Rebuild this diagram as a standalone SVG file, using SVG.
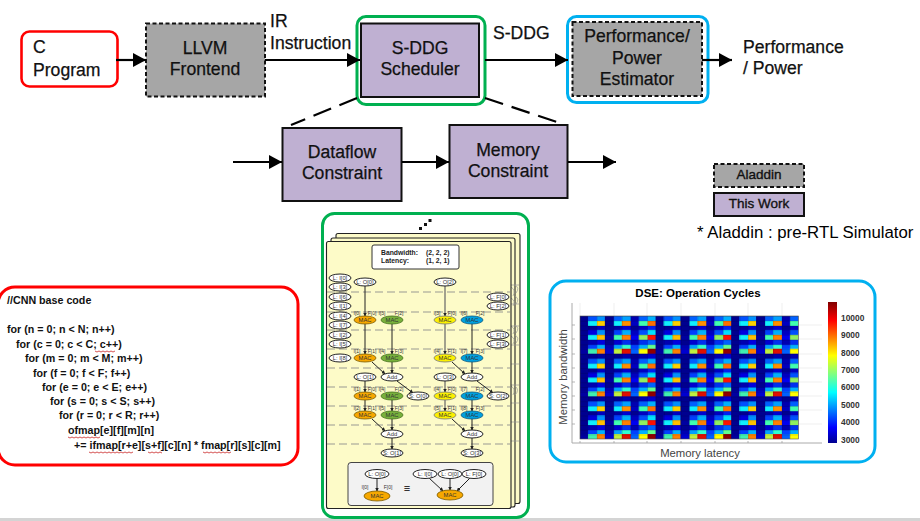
<svg xmlns="http://www.w3.org/2000/svg" width="920" height="521" viewBox="0 0 920 521">
<style>
text{font-family:"Liberation Sans",Arial,sans-serif;fill:#000}
.lbl{font-size:17.6px;fill:#111;stroke:#111;stroke-width:.25}
.mid{font-size:17.6px;fill:#111;stroke:#111;stroke-width:.25;text-anchor:middle}
.leg{font-size:13.5px;fill:#111;stroke:#111;stroke-width:.35;text-anchor:middle}
.purple{fill:#bfb0d2;stroke:#111;stroke-width:2}
.gray{fill:#a6a6a6;stroke:#111;stroke-width:2;stroke-dasharray:4 2.5}
.conn{fill:none;stroke:#000;stroke-width:2.2;marker-end:url(#big)}
.dash{fill:none;stroke:#000;stroke-width:2.2;stroke-dasharray:19 9}
.code{font-size:10.7px;font-weight:bold;fill:#111}
.sq{fill:none;stroke:#d04040;stroke-width:.9}
.card{fill:#fdfbc8;stroke:#222;stroke-width:1.1}
.sep{stroke:#9a9a92;stroke-width:1.2;stroke-dasharray:8 4;fill:none}
.n{fill:#fff;stroke:#222;stroke-width:1}
.t{font-size:5.8px;text-anchor:middle;fill:#333}
.p{font-size:5px;text-anchor:middle;fill:#333}
.e{fill:none;stroke:#222;stroke-width:1;marker-end:url(#small)}
.eg{fill:none;stroke:#666;stroke-width:1.2;marker-end:url(#small)}
.or{fill:#f7a800;stroke:#7a5a00;stroke-width:.8}
.gr{fill:#78b13c;stroke:#44701c;stroke-width:.8}
.ye{fill:#fbf000;stroke:#777;stroke-width:.8}
.bl{fill:#00a0e0;stroke:#0a5a80;stroke-width:.8}
.ax{font-size:11.3px;fill:#444}
.cb{font-size:8.4px;font-weight:bold;fill:#333}
.tick{stroke:#999;stroke-width:.7;fill:none}
.bw{font-size:6.8px;font-weight:bold;fill:#222}
</style>
<defs>
<marker id="big" markerUnits="userSpaceOnUse" markerWidth="14" markerHeight="14" refX="13" refY="7" orient="auto"><path d="M0 0L13 7L0 14z" fill="#000"/></marker>
<marker id="small" markerUnits="userSpaceOnUse" markerWidth="4" markerHeight="4" refX="3.5" refY="2" orient="auto"><path d="M0 0L4 2L0 4z" fill="#222"/></marker>
<linearGradient id="jet" x1="0" y1="1" x2="0" y2="0">
<stop offset="0" stop-color="#00008f"/><stop offset=".11" stop-color="#0000ff"/><stop offset=".36" stop-color="#00ffff"/><stop offset=".62" stop-color="#ffff00"/><stop offset=".87" stop-color="#ff0000"/><stop offset="1" stop-color="#800000"/>
</linearGradient>
<pattern id="heat" patternUnits="userSpaceOnUse" x="580" y="316" width="75.6" height="42.66" shape-rendering="crispEdges">
<g><rect x="0" y="0" width="8.4" height="4.74" fill="#00008f"/><rect x="8.4" y="0" width="8.4" height="4.74" fill="#0050ff"/><rect x="16.8" y="0" width="8.4" height="4.74" fill="#0090ff"/><rect x="25.2" y="0" width="8.4" height="4.74" fill="#00008f"/><rect x="33.6" y="0" width="8.4" height="4.74" fill="#0060ff"/><rect x="42" y="0" width="8.4" height="4.74" fill="#00a0ff"/><rect x="50.4" y="0" width="8.4" height="4.74" fill="#0000b0"/><rect x="58.8" y="0" width="8.4" height="4.74" fill="#0060ff"/><rect x="67.2" y="0" width="8.4" height="4.74" fill="#00b0ff"/></g>
<g><rect x="0" y="4.74" width="8.4" height="4.74" fill="#00008f"/><rect x="8.4" y="4.74" width="8.4" height="4.74" fill="#10efff"/><rect x="16.8" y="4.74" width="8.4" height="4.74" fill="#ffd000"/><rect x="25.2" y="4.74" width="8.4" height="4.74" fill="#00008f"/><rect x="33.6" y="4.74" width="8.4" height="4.74" fill="#10efff"/><rect x="42" y="4.74" width="8.4" height="4.74" fill="#ff9000"/><rect x="50.4" y="4.74" width="8.4" height="4.74" fill="#0000c0"/><rect x="58.8" y="4.74" width="8.4" height="4.74" fill="#40ffb0"/><rect x="67.2" y="4.74" width="8.4" height="4.74" fill="#ff7000"/></g>
<g><rect x="0" y="9.48" width="8.4" height="4.74" fill="#00008f"/><rect x="8.4" y="9.48" width="8.4" height="4.74" fill="#00008f"/><rect x="16.8" y="9.48" width="8.4" height="4.74" fill="#0000c0"/><rect x="25.2" y="9.48" width="8.4" height="4.74" fill="#00008f"/><rect x="33.6" y="9.48" width="8.4" height="4.74" fill="#0000a0"/><rect x="42" y="9.48" width="8.4" height="4.74" fill="#0000d0"/><rect x="50.4" y="9.48" width="8.4" height="4.74" fill="#00008f"/><rect x="58.8" y="9.48" width="8.4" height="4.74" fill="#0000c0"/><rect x="67.2" y="9.48" width="8.4" height="4.74" fill="#0020f0"/></g>
<g><rect x="0" y="14.22" width="8.4" height="4.74" fill="#00008f"/><rect x="8.4" y="14.22" width="8.4" height="4.74" fill="#0000e0"/><rect x="16.8" y="14.22" width="8.4" height="4.74" fill="#0090ff"/><rect x="25.2" y="14.22" width="8.4" height="4.74" fill="#00008f"/><rect x="33.6" y="14.22" width="8.4" height="4.74" fill="#0040ff"/><rect x="42" y="14.22" width="8.4" height="4.74" fill="#00b0ff"/><rect x="50.4" y="14.22" width="8.4" height="4.74" fill="#0000c0"/><rect x="58.8" y="14.22" width="8.4" height="4.74" fill="#0050ff"/><rect x="67.2" y="14.22" width="8.4" height="4.74" fill="#00e0ff"/></g>
<g><rect x="0" y="18.96" width="8.4" height="4.74" fill="#00008f"/><rect x="8.4" y="18.96" width="8.4" height="4.74" fill="#10efff"/><rect x="16.8" y="18.96" width="8.4" height="4.74" fill="#ffc000"/><rect x="25.2" y="18.96" width="8.4" height="4.74" fill="#0000a0"/><rect x="33.6" y="18.96" width="8.4" height="4.74" fill="#40ffb0"/><rect x="42" y="18.96" width="8.4" height="4.74" fill="#ff8000"/><rect x="50.4" y="18.96" width="8.4" height="4.74" fill="#0000f0"/><rect x="58.8" y="18.96" width="8.4" height="4.74" fill="#90f060"/><rect x="67.2" y="18.96" width="8.4" height="4.74" fill="#ff1000"/></g>
<g><rect x="0" y="23.7" width="8.4" height="4.74" fill="#00008f"/><rect x="8.4" y="23.7" width="8.4" height="4.74" fill="#0000b0"/><rect x="16.8" y="23.7" width="8.4" height="4.74" fill="#0000e0"/><rect x="25.2" y="23.7" width="8.4" height="4.74" fill="#00008f"/><rect x="33.6" y="23.7" width="8.4" height="4.74" fill="#0000d0"/><rect x="42" y="23.7" width="8.4" height="4.74" fill="#0030f0"/><rect x="50.4" y="23.7" width="8.4" height="4.74" fill="#0000b0"/><rect x="58.8" y="23.7" width="8.4" height="4.74" fill="#0030f0"/><rect x="67.2" y="23.7" width="8.4" height="4.74" fill="#0060ff"/></g>
<g><rect x="0" y="28.44" width="8.4" height="4.74" fill="#00008f"/><rect x="8.4" y="28.44" width="8.4" height="4.74" fill="#0040ff"/><rect x="16.8" y="28.44" width="8.4" height="4.74" fill="#00b0ff"/><rect x="25.2" y="28.44" width="8.4" height="4.74" fill="#0000b0"/><rect x="33.6" y="28.44" width="8.4" height="4.74" fill="#00a0ff"/><rect x="42" y="28.44" width="8.4" height="4.74" fill="#30ffd0"/><rect x="50.4" y="28.44" width="8.4" height="4.74" fill="#0040ff"/><rect x="58.8" y="28.44" width="8.4" height="4.74" fill="#00b0ff"/><rect x="67.2" y="28.44" width="8.4" height="4.74" fill="#60ff90"/></g>
<g><rect x="0" y="33.18" width="8.4" height="4.74" fill="#0000a0"/><rect x="8.4" y="33.18" width="8.4" height="4.74" fill="#40f0b0"/><rect x="16.8" y="33.18" width="8.4" height="4.74" fill="#ff8000"/><rect x="25.2" y="33.18" width="8.4" height="4.74" fill="#0000d0"/><rect x="33.6" y="33.18" width="8.4" height="4.74" fill="#c0f040"/><rect x="42" y="33.18" width="8.4" height="4.74" fill="#e01000"/><rect x="50.4" y="33.18" width="8.4" height="4.74" fill="#0060ff"/><rect x="58.8" y="33.18" width="8.4" height="4.74" fill="#ffff00"/><rect x="67.2" y="33.18" width="8.4" height="4.74" fill="#900000"/></g>
<g><rect x="0" y="37.92" width="75.6" height="4.74" fill="#00008f"/><rect x="16.8" y="37.92" width="8.4" height="4.74" fill="#0000a0"/><rect x="42" y="37.92" width="8.4" height="4.74" fill="#0000b0"/><rect x="58.8" y="37.92" width="8.4" height="4.74" fill="#0000b0"/><rect x="67.2" y="37.92" width="8.4" height="4.74" fill="#0000d0"/></g>
</pattern>
<pattern id="grid" patternUnits="userSpaceOnUse" x="580" y="316" width="8.4" height="4.74"><path d="M0 0H8.4M0 0V4.74" stroke="#000" stroke-opacity=".45" stroke-width=".5" fill="none"/></pattern>
</defs>
<rect width="920" height="521" fill="#fff"/>
<rect x="0" y="518" width="920" height="3" fill="#d4d4d4"/>

<g id="c-program"><rect x="21.500" y="31.500" width="96" height="55" rx="8" fill="#fff" stroke="#f00" stroke-width="2.6"/><text class="lbl" x="33" y="53">C</text><text class="lbl" x="33" y="75.500">Program</text></g>
<g id="llvm"><rect class="gray" x="146" y="23.500" width="119" height="73"/><text class="mid" x="205" y="54">LLVM</text><text class="mid" x="205" y="75">Frontend</text></g>
<text id="ir-label" class="lbl" x="270" y="27">IR</text>
<text id="ir-label2" class="lbl" x="270" y="49">Instruction</text>
<g id="scheduler"><rect x="357" y="16.500" width="128" height="88" rx="9" fill="#fff" stroke="#00b050" stroke-width="3"/><rect class="purple" x="361" y="23.500" width="118" height="73.500"/><text class="mid" x="420" y="54">S-DDG</text><text class="mid" x="420" y="75">Scheduler</text></g>
<text id="sddg-label" class="lbl" x="493" y="39">S-DDG</text>
<g id="estimator"><rect x="567.500" y="16.500" width="140.500" height="86" rx="9" fill="#fff" stroke="#00b0f0" stroke-width="3"/><rect class="gray" x="572.500" y="22" width="129.500" height="74"/><text class="mid" x="637" y="42">Performance/</text><text class="mid" x="637" y="63.500">Power</text><text class="mid" x="637" y="85">Estimator</text></g>
<text id="out1" class="lbl" x="743" y="53">Performance</text>
<text id="out2" class="lbl" x="743" y="74">/ Power</text>
<g id="dataflow"><rect class="purple" x="282.500" y="128" width="119" height="73"/><text class="mid" x="342" y="157.500">Dataflow</text><text class="mid" x="342" y="179">Constraint</text></g>
<g id="memory"><rect class="purple" x="449.500" y="125" width="118" height="73"/><text class="mid" x="508" y="156">Memory</text><text class="mid" x="508" y="177">Constraint</text></g>
<g id="legend-aladdin"><rect class="gray" x="714" y="164" width="90" height="23"/><text class="leg" x="759" y="179">Aladdin</text></g>
<g id="legend-work"><rect class="purple" x="714" y="193" width="90" height="23"/><text class="leg" x="759" y="208">This Work</text></g>
<text id="note" x="697" y="238" font-size="16.800" fill="#111">* Aladdin : pre-RTL Simulator</text>

<g id="connectors">
<path class="conn" d="M116 60H146"/>
<path class="conn" d="M265 60H360"/>
<path class="conn" d="M485 60H568"/>
<path class="conn" d="M702 60H732"/>
<path class="dash" d="M357 98L291 125"/>
<path class="dash" d="M485 98L563 124"/>
<path class="conn" d="M233 162H282"/>
<path class="conn" d="M402 162H449"/>
<path class="conn" d="M568 162H616"/>
</g>

<g id="code-panel">
<rect x="-2" y="287" width="300" height="178" rx="17" fill="#fff" stroke="#f00" stroke-width="3"/>
<text class="code" x="7" y="304">//CNN base code</text>
<text class="code" x="7" y="333">for (n = 0; n &lt; N; n++)</text>
<text class="code" x="16" y="348">for (c = 0; c &lt; C; c++)</text>
<text class="code" x="25" y="362">for (m = 0; m &lt; M; m++)</text>
<text class="code" x="33" y="377">for (f = 0; f &lt; F; f++)</text>
<text class="code" x="42" y="391">for (e = 0; e &lt; E; e++)</text>
<text class="code" x="50" y="405">for (s = 0; s &lt; S; s++)</text>
<text class="code" x="59" y="419">for (r = 0; r &lt; R; r++)</text>
<text class="code" x="68" y="434">ofmap[e][f][m][n]</text>
<text class="code" x="74" y="449">+= ifmap[r+e][s+f][c][n] * fmap[r][s][c][m]</text>
<path class="sq" d="M95 351l2 1 2-1 2 1 2-1 2 1 2-1 2 1 2-1 2 1 2-1"/>
<path class="sq" d="M68 437l2 1 2-1 2 1 2-1 2 1 2-1 2 1 2-1 2 1 2-1 2 1 2-1 2 1 2-1 2 1 2-1"/>
<path class="sq" d="M89 452l2 1 2-1 2 1 2-1 2 1 2-1 2 1 2-1 2 1 2-1 2 1 2-1 2 1 2-1 2 1 2-1 2 1 2-1 2 1 2-1 2 1 2-1"/>
<path class="sq" d="M148 452l2 1 2-1 2 1 2-1 2 1 2-1 2 1"/>
<path class="sq" d="M203 452l2 1 2-1 2 1 2-1 2 1 2-1 2 1 2-1 2 1 2-1 2 1 2-1 2 1 2-1"/>
</g>

<g id="ddg-panel">
<rect x="322.500" y="213.500" width="206" height="304" rx="12" fill="#fff" stroke="#00b050" stroke-width="3"/>
<rect x="419" y="227" width="3" height="3" fill="#111"/><rect x="424" y="223" width="3" height="3" fill="#111"/><rect x="428.500" y="219" width="3" height="3" fill="#111"/>
<rect class="card" x="336" y="233.500" width="184" height="270" rx="2"/>
<rect class="card" x="331" y="238" width="184" height="269" rx="2"/>
<path class="tick" d="M511 285h8M511 304h8M511 326h8M511 345h8M511 364h8M511 385h8M511 403h8M511 422h8M511 441h8"/>
<path class="tick" stroke="#333" d="M511 287q5 3 2 9M511 298q5 3 2 8M511 326q5 3 2 8M511 336q5 3 2 8M511 386q5 3 2 9M515 285q5 3 1 8M515 296q5 3 1 8M515 325q5 3 1 8M515 335q5 3 1 8M515 386q5 4 0 9"/>
<rect class="card" x="326.500" y="241.500" width="184.500" height="267" rx="2"/>

<path class="sep" d="M327 292H510M327 312H510M327 330H510M327 349H510M327 368H510M327 387H510M327 406H510M327 425H510M327 444H510"/>
<rect x="372" y="245" width="87" height="24" rx="2" fill="#fff" stroke="#333" stroke-width="1"/>
<text class="bw" x="381" y="254.500">Bandwidth:</text><text class="bw" x="426" y="254.500">(2, 2, 2)</text>
<text class="bw" x="381" y="263">Latency:</text><text class="bw" x="426" y="263">(1, 2, 1)</text>

<g id="ddg-edges">
<path class="e" d="M365 286V316"/><path class="e" d="M365 324V354"/><path class="e" d="M392 324V354"/>
<path class="eg" d="M445 286V316"/><path class="eg" d="M445 324V354"/><path class="e" d="M472 324V354"/>
<path class="e" d="M372 362L385 374"/><path class="e" d="M392 362V373"/><path class="e" d="M452 362L465 374"/><path class="e" d="M472 362V373"/>
<path class="e" d="M397 381L413 393"/><path class="e" d="M477 381L493 393"/>
<path class="e" d="M365 381V392"/><path class="eg" d="M445 381V392"/>
<path class="e" d="M365 400V411"/><path class="e" d="M392 400V411"/><path class="eg" d="M445 400V411"/><path class="e" d="M472 400V411"/>
<path class="e" d="M372 419L385 431"/><path class="e" d="M392 419V430"/><path class="e" d="M452 419L465 431"/><path class="e" d="M472 419V430"/>
<path class="e" d="M392 438V449"/><path class="e" d="M472 438V449"/>
</g>

<g id="ddg-inputs">
<ellipse class="n" cx="340" cy="278" rx="11" ry="4"/><text class="t" x="340" y="280">L: I[0]</text>
<ellipse class="n" cx="340" cy="287" rx="11" ry="4"/><text class="t" x="340" y="289">L: I[3]</text>
<ellipse class="n" cx="340" cy="297" rx="11" ry="4"/><text class="t" x="340" y="299">L: I[6]</text>
<ellipse class="n" cx="340" cy="306" rx="11" ry="4"/><text class="t" x="340" y="308">L: I[1]</text>
<ellipse class="n" cx="340" cy="316" rx="11" ry="4"/><text class="t" x="340" y="318">L: I[4]</text>
<ellipse class="n" cx="340" cy="325" rx="11" ry="4"/><text class="t" x="340" y="327">L: I[7]</text>
<ellipse class="n" cx="340" cy="335" rx="11" ry="4"/><text class="t" x="340" y="337">L: I[2]</text>
<ellipse class="n" cx="340" cy="344" rx="11" ry="4"/><text class="t" x="340" y="346">L: I[5]</text>
<ellipse class="n" cx="340" cy="358" rx="11" ry="4"/><text class="t" x="340" y="360">L: I[8]</text>
<ellipse class="n" cx="365" cy="282" rx="11" ry="4"/><text class="t" x="365" y="284">L: O[0]</text>
<ellipse class="n" cx="445" cy="282" rx="11" ry="4"/><text class="t" x="445" y="284">L: O[2]</text>
<ellipse class="n" cx="498" cy="297" rx="11" ry="4"/><text class="t" x="498" y="299">L: F[0]</text>
<ellipse class="n" cx="498" cy="306" rx="11" ry="4"/><text class="t" x="498" y="308">L: F[2]</text>
<ellipse class="n" cx="498" cy="335" rx="11" ry="4"/><text class="t" x="498" y="337">L: F[1]</text>
<ellipse class="n" cx="498" cy="344" rx="11" ry="4"/><text class="t" x="498" y="346">L: F[3]</text>
<ellipse class="n" cx="365" cy="377" rx="11" ry="4"/><text class="t" x="365" y="379">L: O[1]</text>
<ellipse class="n" cx="445" cy="377" rx="11" ry="4"/><text class="t" x="445" y="379">L: O[3]</text>
<ellipse class="n" cx="418" cy="396" rx="11" ry="4"/><text class="t" x="418" y="398">S: O[0]</text>
<ellipse class="n" cx="498" cy="396" rx="11" ry="4"/><text class="t" x="498" y="398">S: O[2]</text>
<ellipse class="n" cx="392" cy="453" rx="11" ry="4"/><text class="t" x="392" y="455">S: O[1]</text>
<ellipse class="n" cx="472" cy="453" rx="11" ry="4"/><text class="t" x="472" y="455">S: O[3]</text>
<ellipse class="n" cx="392" cy="377" rx="11" ry="4"/><text class="t" x="392" y="379">Add</text>
<ellipse class="n" cx="472" cy="377" rx="11" ry="4"/><text class="t" x="472" y="379">Add</text>
<ellipse class="n" cx="392" cy="434" rx="11" ry="4"/><text class="t" x="392" y="436">Add</text>
<ellipse class="n" cx="472" cy="434" rx="11" ry="4"/><text class="t" x="472" y="436">Add</text>
</g>
<g id="ddg-macs">
<ellipse class="or" cx="365" cy="320" rx="11" ry="4"/><text class="t" x="365" y="322">MAC</text>
<ellipse class="gr" cx="392" cy="320" rx="11" ry="4"/><text class="t" x="392" y="322">MAC</text>
<ellipse class="ye" cx="445" cy="320" rx="11" ry="4"/><text class="t" x="445" y="322">MAC</text>
<ellipse class="bl" cx="472" cy="320" rx="11" ry="4"/><text class="t" x="472" y="322">MAC</text>
<ellipse class="or" cx="365" cy="358" rx="11" ry="4"/><text class="t" x="365" y="360">MAC</text>
<ellipse class="gr" cx="392" cy="358" rx="11" ry="4"/><text class="t" x="392" y="360">MAC</text>
<ellipse class="ye" cx="445" cy="358" rx="11" ry="4"/><text class="t" x="445" y="360">MAC</text>
<ellipse class="bl" cx="472" cy="358" rx="11" ry="4"/><text class="t" x="472" y="360">MAC</text>
<ellipse class="or" cx="365" cy="396" rx="11" ry="4"/><text class="t" x="365" y="398">MAC</text>
<ellipse class="gr" cx="392" cy="396" rx="11" ry="4"/><text class="t" x="392" y="398">MAC</text>
<ellipse class="ye" cx="445" cy="396" rx="11" ry="4"/><text class="t" x="445" y="398">MAC</text>
<ellipse class="bl" cx="472" cy="396" rx="11" ry="4"/><text class="t" x="472" y="398">MAC</text>
<ellipse class="or" cx="365" cy="415" rx="11" ry="4"/><text class="t" x="365" y="417">MAC</text>
<ellipse class="gr" cx="392" cy="415" rx="11" ry="4"/><text class="t" x="392" y="417">MAC</text>
<ellipse class="ye" cx="445" cy="415" rx="11" ry="4"/><text class="t" x="445" y="417">MAC</text>
<ellipse class="bl" cx="472" cy="415" rx="11" ry="4"/><text class="t" x="472" y="417">MAC</text>
</g>
<g id="ddg-ports">
<text class="p" x="357" y="315">I[0]</text><text class="p" x="372" y="315">F[0]</text><text class="p" x="382" y="315">I[3]</text><text class="p" x="399" y="315">F[2]</text>
<text class="p" x="437" y="315">I[3]</text><text class="p" x="452" y="315">F[0]</text><text class="p" x="464" y="315">I[6]</text><text class="p" x="480" y="315">F[2]</text>
<text class="p" x="357" y="353">I[1]</text><text class="p" x="372" y="353">F[1]</text><text class="p" x="382" y="353">I[4]</text><text class="p" x="399" y="353">F[3]</text>
<text class="p" x="437" y="353">I[4]</text><text class="p" x="452" y="353">F[1]</text><text class="p" x="464" y="353">I[7]</text><text class="p" x="480" y="353">F[3]</text>
<text class="p" x="357" y="391">I[1]</text><text class="p" x="372" y="391">F[0]</text><text class="p" x="382" y="391">I[4]</text><text class="p" x="399" y="391">F[2]</text>
<text class="p" x="437" y="391">I[4]</text><text class="p" x="452" y="391">F[0]</text><text class="p" x="464" y="391">I[7]</text><text class="p" x="480" y="391">F[2]</text>
<text class="p" x="357" y="410">I[2]</text><text class="p" x="372" y="410">F[1]</text><text class="p" x="382" y="410">I[5]</text><text class="p" x="399" y="410">F[3]</text>
<text class="p" x="437" y="410">I[5]</text><text class="p" x="452" y="410">F[1]</text><text class="p" x="464" y="410">I[8]</text><text class="p" x="480" y="410">F[3]</text>
</g>
<g id="ddg-key">
<rect x="348" y="462.500" width="145" height="43" rx="3" fill="#f2f2f2" stroke="#444" stroke-width="1"/>
<path class="e" d="M377 478V491"/><path class="e" d="M429 478L443 491"/><path class="e" d="M450 478V490"/><path class="e" d="M470 478L457 491"/>
<ellipse class="n" cx="377" cy="474" rx="12" ry="4.500"/><text class="t" x="377" y="476">L: O[0]</text>
<ellipse class="or" cx="377" cy="496" rx="13" ry="5"/><text class="t" x="377" y="498">MAC</text>
<text class="p" x="365" y="489">I[0]</text><text class="p" x="388" y="489">F[0]</text>
<text x="407" y="492" font-size="11" text-anchor="middle" fill="#444">≡</text>
<ellipse class="n" cx="425" cy="474" rx="12" ry="4.500"/><text class="t" x="425" y="476">L: I[0]</text>
<ellipse class="n" cx="450" cy="474" rx="12" ry="4.500"/><text class="t" x="450" y="476">L: O[0]</text>
<ellipse class="n" cx="474" cy="474" rx="12" ry="4.500"/><text class="t" x="474" y="476">L: F[0]</text>
<ellipse class="or" cx="450" cy="495" rx="13" ry="5"/><text class="t" x="450" y="497">MAC</text>
</g>
</g>

<g id="dse-panel">
<rect x="550" y="281" width="325" height="181" rx="16" fill="#fff" stroke="#00b0f0" stroke-width="3"/>
<text x="698" y="297" font-size="11.500" font-weight="bold" text-anchor="middle" fill="#222">DSE: Operation Cycles</text>
<path d="M572 303V443H822" fill="none" stroke="#aaa" stroke-width="1"/>
<path stroke="#e8e8e8" stroke-width=".7" fill="none" d="M580 303V316M614 303V316M647 303V316M681 303V316M715 303V316M748 303V316M782 303V316M798 325H822M798 339H822M798 354H822M798 368H822M798 382H822M798 396H822M798 410H822M798 424H822"/>
<path class="tick" d="M580 443v-2M614 443v-2M647 443v-2M681 443v-2M715 443v-2M748 443v-2M782 443v-2M572 325h3M572 339h3M572 354h3M572 368h3M572 382h3M572 396h3M572 410h3M572 424h3"/>
<rect x="580" y="316" width="218.400" height="123" fill="url(#heat)"/>
<rect x="580" y="316" width="218.400" height="123" fill="url(#grid)"/>
<rect x="580" y="316" width="218.400" height="123" fill="none" stroke="#555" stroke-width=".6"/>
<rect x="828" y="302" width="9" height="141" fill="url(#jet)"/>
<text class="cb" x="841" y="321">10000</text>
<text class="cb" x="841" y="338">9000</text>
<text class="cb" x="841" y="356">8000</text>
<text class="cb" x="841" y="373">7000</text>
<text class="cb" x="841" y="390">6000</text>
<text class="cb" x="841" y="408">5000</text>
<text class="cb" x="841" y="425">4000</text>
<text class="cb" x="841" y="443">3000</text>
<text class="ax" x="700" y="457" text-anchor="middle">Memory latency</text>
<text class="ax" x="567" y="377" text-anchor="middle" transform="rotate(-90 567 377)">Memory bandwidth</text>
</g>
</svg>
